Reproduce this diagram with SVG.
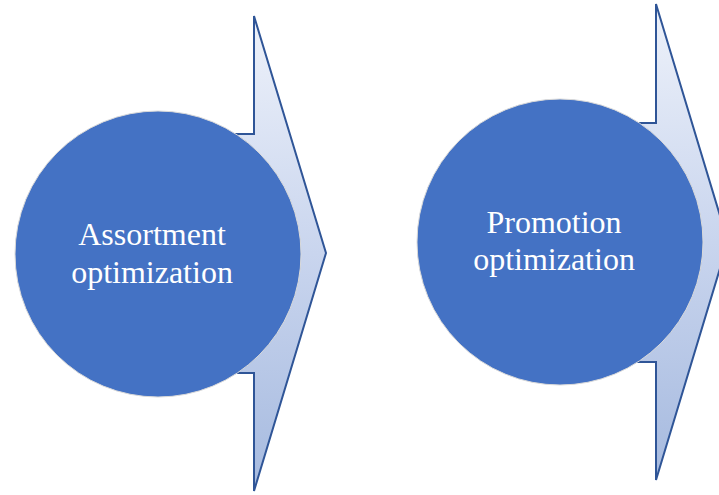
<svg xmlns="http://www.w3.org/2000/svg" width="719" height="495" viewBox="0 0 719 495">
  <defs>
    <linearGradient id="arrowFill" x1="0" y1="0" x2="0" y2="1">
      <stop offset="0" stop-color="#eef2fa"/>
      <stop offset="0.5" stop-color="#c9d5ee"/>
      <stop offset="1" stop-color="#a6badf"/>
    </linearGradient>
  </defs>
  <style>
    .arrow { fill: url(#arrowFill); stroke: #2f5597; stroke-width: 2; stroke-linejoin: miter; }
    .disc { fill: #4472c4; stroke: #d9d9d9; stroke-width: 1; }
    .label { font-family: "Liberation Serif", "Times New Roman", serif; font-size: 32px; fill: #ffffff; text-anchor: middle; }
  </style>
  <rect width="719" height="495" fill="#ffffff"/>

  <!-- connectors: chevron arrows behind each disc -->
  <g id="connectors">
    <polygon class="arrow" points="200,134 254,134 254,16 326,253 254,491 254,373 200,373"/>
    <polygon class="arrow" points="600,123 656,123 656,4 728,242 656,480 656,362 600,362"/>
  </g>

  <g id="node-assortment">
    <circle class="disc" cx="158" cy="254" r="143"/>
    <text class="label" x="152" y="245">Assortment</text>
    <text class="label" x="152" y="283">optimization</text>
  </g>

  <g id="node-promotion">
    <circle class="disc" cx="560" cy="242" r="143"/>
    <text class="label" x="554" y="233">Promotion</text>
    <text class="label" x="554" y="270">optimization</text>
  </g>
</svg>
